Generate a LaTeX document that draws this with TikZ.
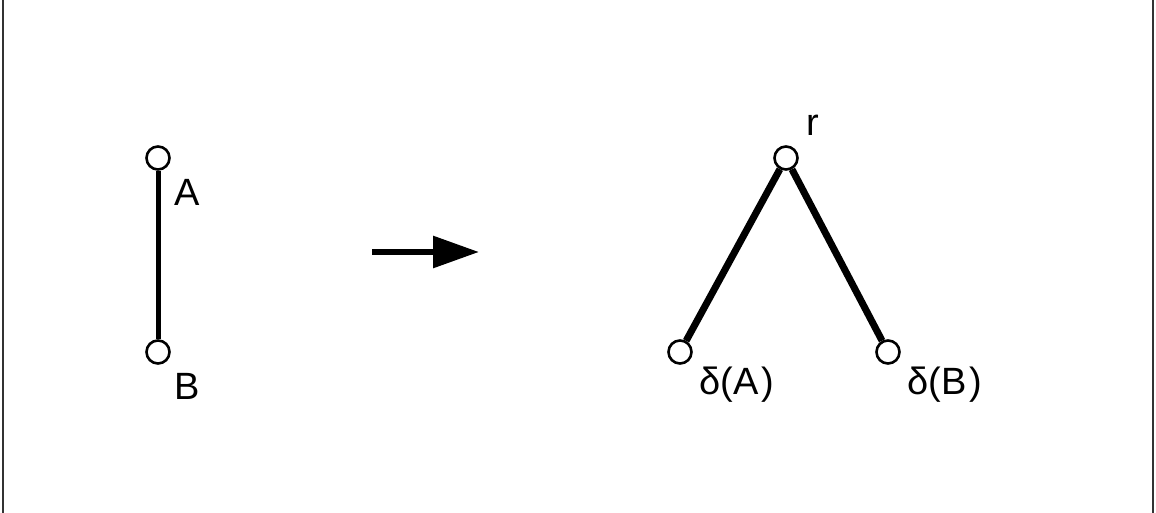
\documentclass[tikz,border=0pt]{standalone}
\usepackage{fontspec}
\setmainfont{Liberation Sans}
\usetikzlibrary{arrows.meta}
\begin{document}
\begin{tikzpicture}[x=1pt,y=-1pt,
  vert/.style={circle,draw,line width=2.6pt,minimum size=23pt,inner sep=0pt,fill=white},
  edge/.style={line width=5.5pt},
  lbl/.style={font=\fontsize{38}{42}\selectfont,inner sep=0pt}]
\useasboundingbox (0,0) rectangle (1156,513);
\draw[line width=2pt,black!80] (3,0) -- (3,513);
\draw[line width=2pt,black!80] (1153,0) -- (1153,513);
\node[vert] (A) at (158,158) {};
\node[vert] (B) at (158,352) {};
\draw[edge,line width=5pt] (A) -- (B);
\node[lbl] (la) at (187,192) {A};
\node[lbl] (lb) at (187,386) {B};
\coordinate (s) at (372,252);
\coordinate (t) at (479,252);
\draw[line width=6pt,-{Triangle[length=46pt,width=31pt]}] (s) -- (t);
\node[vert] (r) at (786,158) {};
\node[vert] (dA) at (680,352) {};
\node[vert] (dB) at (888,352) {};
\draw[edge,line width=7pt] (r) -- (dA);
\draw[edge,line width=7pt] (r) -- (dB);
\node[lbl] (lr) at (813,125) {r};
\node[lbl] (ldA) at (737,385) {δ(A\kern3pt)};
\node[lbl] (ldB) at (945,385) {δ(B\kern3pt)};
\end{tikzpicture}
\end{document}
